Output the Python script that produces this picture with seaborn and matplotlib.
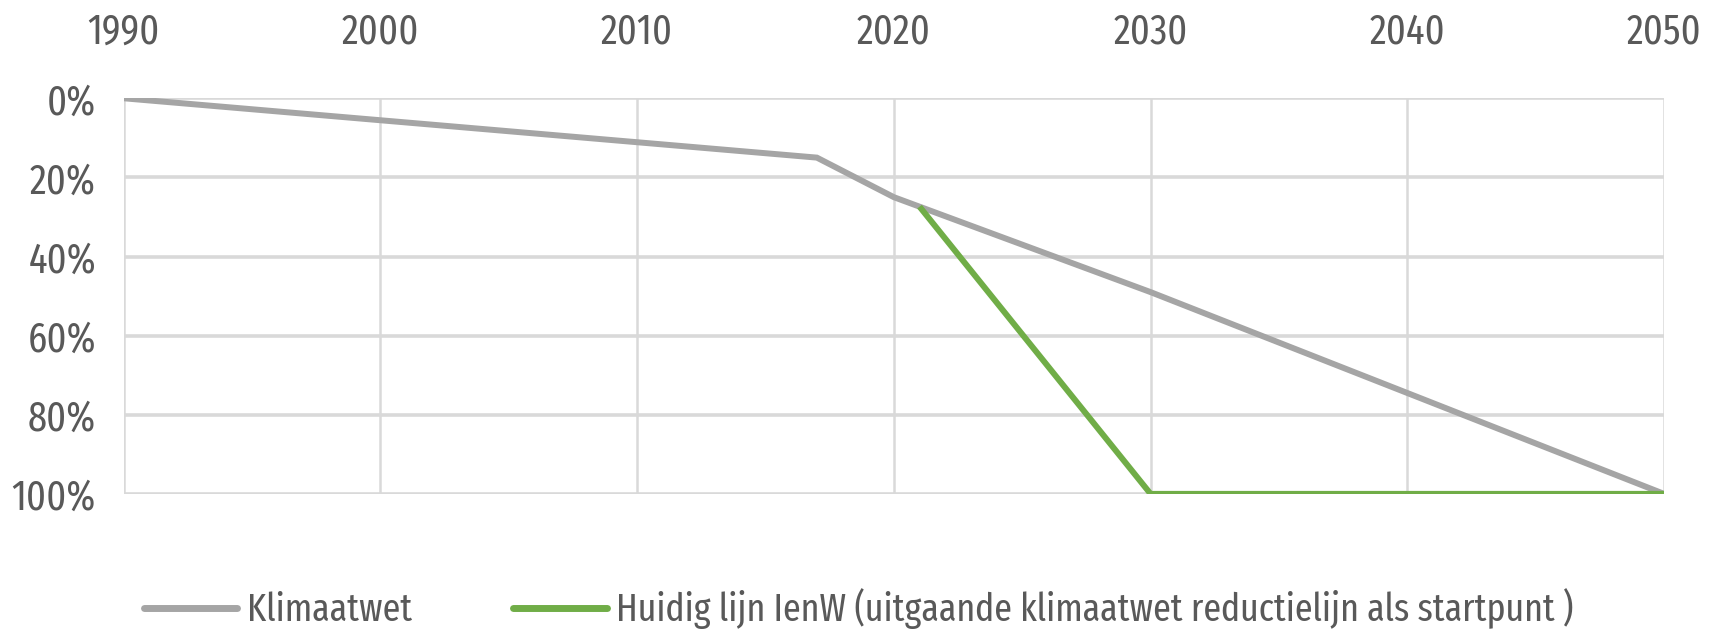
import matplotlib
matplotlib.use("Agg")
import matplotlib.pyplot as plt
import seaborn as sns
import pandas as pd
from matplotlib.ticker import FuncFormatter
from matplotlib.lines import Line2D

years_klimaatwet = [1990, 2017, 2020, 2030, 2050]
values_klimaatwet = [0, 15, 25, 49, 100]
years_ienw = [2021, 2030, 2050]
values_ienw = [27.4, 100, 100]
series_names = ["Klimaatwet", "Huidig lijn IenW (uitgaande klimaatwet reductielijn als startpunt )"]
x_ticks = [1990, 2000, 2010, 2020, 2030, 2040, 2050]
y_ticks = [0, 20, 40, 60, 80, 100]

df = pd.concat([
    pd.DataFrame({"jaar": years_klimaatwet, "waarde": values_klimaatwet, "serie": series_names[0]}),
    pd.DataFrame({"jaar": years_ienw, "waarde": values_ienw, "serie": series_names[1]}),
])

FONT = ['Fira Sans Extra Condensed', 'Open Sans Condensed', 'DejaVu Sans']
sns.set_theme(style="white")
plt.rcParams['font.family'] = FONT
plt.rcParams['font.weight'] = 'normal'

fig = plt.figure(figsize=(17.18, 6.34), dpi=100)
ax = fig.add_axes([0.072, 0.221, 0.8966, 0.624])

palette = {series_names[0]: "#a5a5a5", series_names[1]: "#70ad47"}
sns.lineplot(data=df, x="jaar", y="waarde", hue="serie", palette=palette,
             linewidth=4.3, ax=ax, legend=False, sort=False, zorder=3)
for ln in ax.get_lines():
    ln.set_solid_capstyle("butt")
    ln.set_solid_joinstyle("miter")

ax.set_xlim(1990, 2050)
ax.set_ylim(100, 0)
ax.set_xticks(x_ticks)
ax.set_yticks(y_ticks)
ax.yaxis.set_major_formatter(FuncFormatter(lambda v, p: f"{int(v)}%"))
ax.xaxis.tick_top()
ax.tick_params(axis="both", length=0, labelsize=30, labelcolor="#595959")
ax.tick_params(axis="x", pad=33)
ax.tick_params(axis="y", pad=20)
ax.set_xlabel("")
ax.set_ylabel("")

for y in y_ticks:
    ax.axhline(y, color="#d9d9d9", linewidth=2.6, zorder=1)
for x in x_ticks:
    ax.axvline(x, color="#d9d9d9", linewidth=1.8, zorder=1)
for s in ax.spines.values():
    s.set_visible(False)

handles = [Line2D([0], [0], color=palette[n], linewidth=5) for n in series_names]
leg = fig.legend(handles, series_names, loc="center", bbox_to_anchor=(0.5, 0.04), ncol=2,
                 frameon=False, prop={"family": FONT, "weight": "normal", "size": 28},
                 handlelength=2.4, handletextpad=0.25, columnspacing=2.6)
for t in leg.get_texts():
    t.set_color("#595959")

fig.savefig("out.png", dpi=100, facecolor="white")
